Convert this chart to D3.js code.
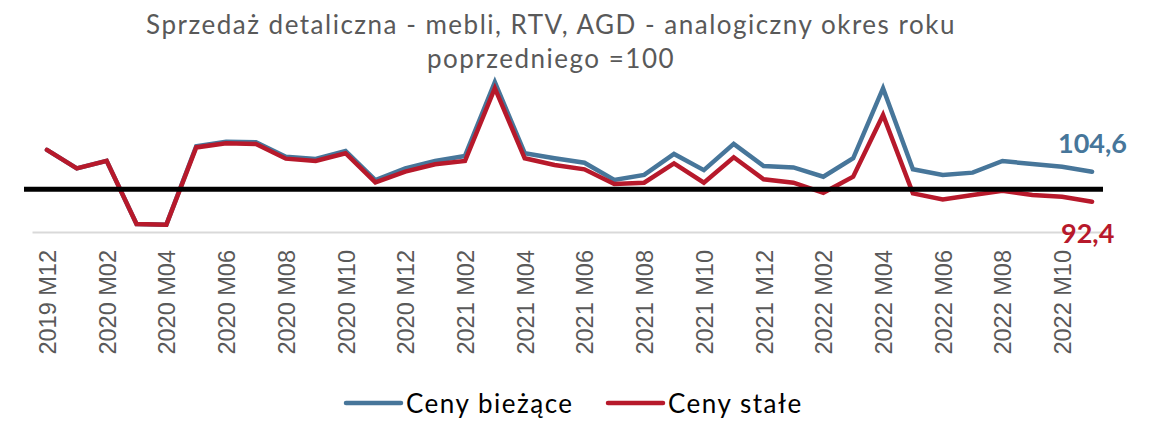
<!DOCTYPE html>
<html>
<head>
<meta charset="utf-8">
<script src="https://cdn.jsdelivr.net/npm/d3@7"></script>
<style>
  body { margin: 0; background: #fff; }
  svg { display: block; }
</style>
</head>
<body>
<svg id="chart" width="1152" height="421"></svg>
<script>
// months on the category axis
const months = [
  '2019 M12',
  '2020 M01', '2020 M02', '2020 M03', '2020 M04', '2020 M05', '2020 M06',
  '2020 M07', '2020 M08', '2020 M09', '2020 M10', '2020 M11', '2020 M12',
  '2021 M01', '2021 M02', '2021 M03', '2021 M04', '2021 M05', '2021 M06',
  '2021 M07', '2021 M08', '2021 M09', '2021 M10', '2021 M11', '2021 M12',
  '2022 M01', '2022 M02', '2022 M03', '2022 M04', '2022 M05', '2022 M06',
  '2022 M07', '2022 M08', '2022 M09', '2022 M10', '2022 M11'
];

// (same month last year = 100)
const cenyBiezace = [
  120.3, 110.8, 114.7, 82.1, 81.8, 122.2, 124.5, 124.2, 116.8, 115.6, 119.7, 104.8,
  110.8, 114.6, 117.2, 155.2, 118.6, 116.0, 113.7, 104.8, 107.4, 118.2, 109.9, 123.4,
  112.0, 111.3, 106.5, 116.0, 152.1, 110.3, 107.4, 108.6, 114.6, 113.0, 111.6, 109.1
];
const cenyStale = [
  120.3, 110.8, 114.7, 82.1, 81.8, 121.6, 123.7, 123.4, 115.8, 114.6, 118.6, 103.6,
  109.1, 112.9, 114.6, 152.1, 116.0, 112.5, 110.3, 102.7, 103.4, 113.4, 103.4, 116.5,
  105.2, 103.4, 98.2, 106.5, 138.3, 97.9, 94.8, 97.1, 99.3, 97.1, 96.2, 93.6
];

const seriesNames = ['Ceny bieżące', 'Ceny stałe'];
const seriesColors = ['#47769a', '#b7192b'];
const endLabels = ['104,6', '92,4'];
const baseValue = 100;

const titleLines = [
  'Sprzedaż detaliczna - mebli, RTV, AGD - analogiczny okres roku',
  'poprzedniego =100'
];

const svg = d3.select('#chart');
const font = 'Lato, "Open Sans", sans-serif';

let x = d3.scaleLinear().domain([-0.5, months.length - 0.5]).range([32, 1107]);
let y = d3.scaleLinear().domain([78, 160]).range([232, 72.9]);

// title
svg.append('g').selectAll('text')
  .data(titleLines)
  .enter()
  .append('text')
  .attr('x', 551)
  .attr('y', (d, i) => 34 + i * 34)
  .attr('text-anchor', 'middle')
  .style('font-family', font)
  .style('font-size', '26px')
  .style('letter-spacing', '1.5px')
  .style('fill', '#595959')
  .text(d => d);

// category axis
let xAxis = d3.axisBottom(x)
  .tickValues(d3.range(0, months.length, 2))
  .tickFormat(i => months[i])
  .tickSize(0)
  .tickSizeOuter(0);

let axisG = svg.append('g')
  .attr('transform', 'translate(0,' + y.range()[0] + ')')
  .call(xAxis);
axisG.select('.domain').attr('stroke', '#d9d9d9').attr('stroke-width', 2);
axisG.selectAll('text')
  .attr('transform', 'rotate(-90)')
  .attr('x', -18)
  .attr('y', 0)
  .attr('dy', '0.36em')
  .attr('text-anchor', 'end')
  .style('font-family', '"Liberation Sans", Arial, sans-serif')
  .style('font-size', '23.5px')
  .style('fill', '#595959');

// series
let line = d3.line()
  .x((d, i) => x(i))
  .y(d => y(d));

svg.append('g').selectAll('path')
  .data([cenyBiezace, cenyStale])
  .enter()
  .append('path')
  .attr('d', line)
  .attr('fill', 'none')
  .attr('stroke', (d, i) => seriesColors[i])
  .attr('stroke-width', 4.5)
  .attr('stroke-linejoin', 'miter')
  .attr('stroke-linecap', 'round');

// 100 line
svg.append('line')
  .attr('x1', x(-0.5) - 8)
  .attr('x2', x(months.length - 0.5) - 4)
  .attr('y1', y(baseValue))
  .attr('y2', y(baseValue))
  .attr('stroke', '#000')
  .attr('stroke-width', 5);

// end labels
svg.append('g').selectAll('text')
  .data(endLabels)
  .enter()
  .append('text')
  .attr('x', (d, i) => i === 0 ? 1058 : 1061)
  .attr('y', (d, i) => i === 0 ? 153 : 243)
  .style('font-family', font)
  .style('font-weight', 'bold')
  .style('font-size', '27px')
  .style('fill', (d, i) => seriesColors[i])
  .text(d => d);

// legend
let legend = svg.append('g').selectAll('g')
  .data(seriesNames)
  .enter()
  .append('g')
  .attr('transform', (d, i) => 'translate(' + [346, 608][i] + ',403)');

legend.append('line')
  .attr('x1', 0)
  .attr('x2', 55)
  .attr('stroke', (d, i) => seriesColors[i])
  .attr('stroke-width', 4.5)
  .attr('stroke-linecap', 'round');

legend.append('text')
  .attr('x', 60)
  .attr('y', 10)
  .style('font-family', font)
  .style('font-size', '26px')
  .style('letter-spacing', '1.5px')
  .style('fill', '#000')
  .text(d => d);
</script>
</body>
</html>
